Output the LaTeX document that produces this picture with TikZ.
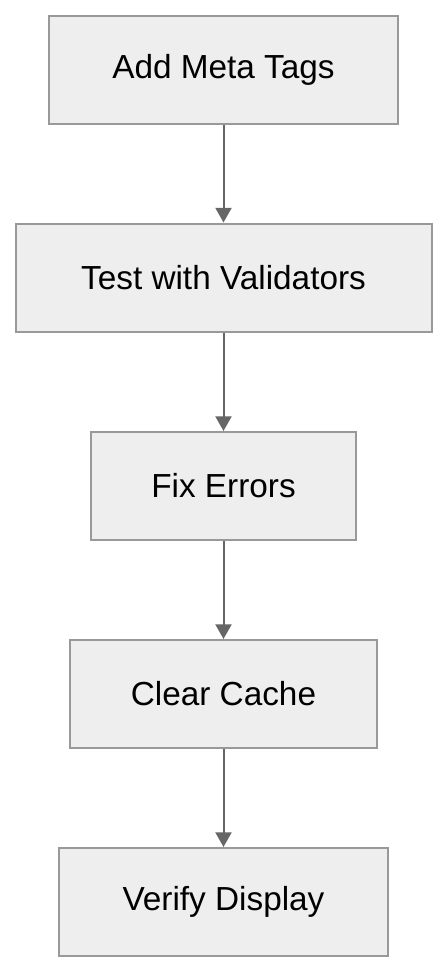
\documentclass[tikz,border=0pt]{standalone}
\usepackage{fontspec}
\setmainfont{Liberation Sans}
\usetikzlibrary{arrows.meta}
\definecolor{boxfill}{RGB}{238,238,238}
\definecolor{boxline}{RGB}{153,153,153}
\definecolor{arrowline}{RGB}{102,102,102}
\tikzset{every picture/.style={line width=0.75pt}}
\tikzset{stepbox/.style={draw=boxline,fill=boxfill,line width=1.5pt,minimum height=81pt,inner sep=0pt,font=\fontsize{25}{30}\selectfont},
flowarrow/.style={draw=arrowline,line width=1.5pt,-{Triangle[length=11pt,width=12pt]}}}

\begin{document}
\begin{tikzpicture}[x=0.75pt,y=0.75pt,yscale=-1,xscale=1]
%set diagram size 448 x 972
\useasboundingbox (0,0) rectangle (448,972);

% Text Node
\draw (223.5,70) node [stepbox,minimum width=261.75pt] (tags) {Add Meta Tags};
% Text Node
\draw (223.5,277.5) node [stepbox,minimum width=312pt] (test) {Test with Validators};
% Text Node
\draw (223.5,486) node [stepbox,minimum width=198.75pt] (fix) {Fix Errors};
% Text Node
\draw (223.5,694) node [stepbox,minimum width=230.25pt] (cache) {Clear Cache};
% Text Node
\draw (223.5,902) node [stepbox,minimum width=246.75pt] (verify) {Verify Display};

%Arrows
\draw [flowarrow] (tags) -- (test);
\draw [flowarrow] (test) -- (fix);
\draw [flowarrow] (fix) -- (cache);
\draw [flowarrow] (cache) -- (verify);

\end{tikzpicture}
\end{document}
